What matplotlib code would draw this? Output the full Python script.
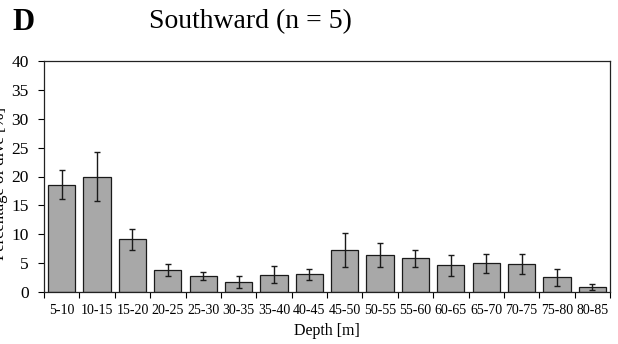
import numpy as np
import matplotlib.pyplot as plt

plt.rcParams['font.family'] = ['Liberation Serif', 'DejaVu Serif']

# depth classes and mean percentage of dive time (+/- error)
depth_bins = ['5-10', '10-15', '15-20', '20-25', '25-30', '30-35', '35-40', '40-45',
              '45-50', '50-55', '55-60', '60-65', '65-70', '70-75', '75-80', '80-85']
percent = [18.6, 20.0, 9.1, 3.8, 2.7, 1.7, 3.0, 3.1,
           7.3, 6.4, 5.85, 4.6, 4.95, 4.8, 2.55, 0.85]
errors = [2.5, 4.3, 1.8, 1.0, 0.7, 1.0, 1.5, 0.95,
          2.9, 2.1, 1.45, 1.85, 1.6, 1.7, 1.45, 0.55]

fig = plt.figure(figsize=(6.18, 3.44), dpi=100)
ax = fig.add_axes([44 / 618, 1 - 292 / 344, 566 / 618, 231 / 344])

x = np.arange(len(depth_bins))
ax.bar(x, percent, width=0.77, color='#a8a8a8', edgecolor='#1a1a1a', linewidth=0.9,
       yerr=errors, error_kw=dict(ecolor='#1a1a1a', elinewidth=1.0, capsize=2.5, capthick=1.0))

ax.set_xlim(-0.5, len(depth_bins) - 0.5)
ax.set_ylim(0, 40)
ax.set_yticks(range(0, 41, 5))
ax.tick_params(axis='y', labelsize=12.5, length=4, width=0.8, direction='out', pad=7)

# ticks between bars, labels under bars
ax.set_xticks(np.arange(-0.5, len(depth_bins), 1.0))
ax.set_xticklabels([])
ax.set_xticks(x, minor=True)
ax.set_xticklabels(depth_bins, minor=True)
ax.tick_params(axis='x', which='major', length=4, width=0.8, direction='out')
ax.tick_params(axis='x', which='minor', length=0, labelsize=10, pad=9)

for s in ax.spines.values():
    s.set_linewidth(0.9)
    s.set_color('#222222')

ax.set_xlabel('Depth [m]', fontsize=11.5, labelpad=4)
fig.text(0, 1 - 183 / 344, 'Percentage of dive [%]', rotation=90, ha='center',
         va='center', fontsize=12)

fig.text(12 / 618, 1 - 22 / 344, 'D', fontsize=22, fontweight='bold', ha='left', va='center')
fig.text(250 / 618, 1 - 22 / 344, 'Southward (n = 5)', fontsize=20, ha='center', va='center')

fig.savefig('out.png', dpi=100)
